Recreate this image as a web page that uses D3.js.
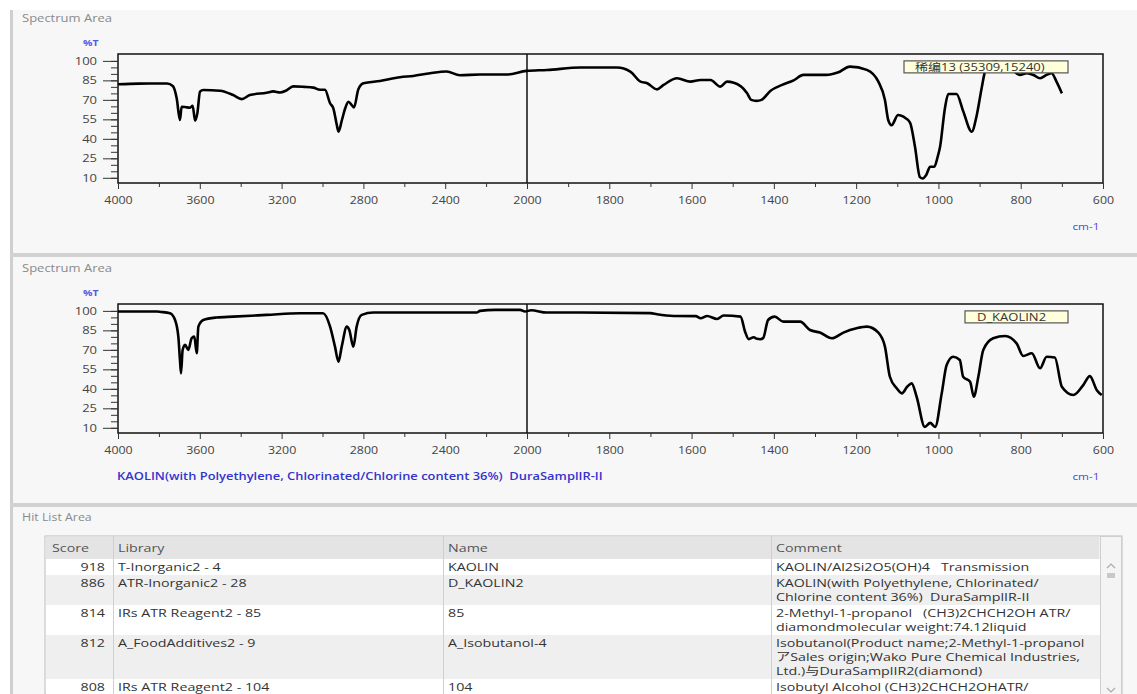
<!DOCTYPE html>
<html>
<head>
<meta charset="utf-8">
<script src="https://cdn.jsdelivr.net/npm/d3@7"></script>
<style>
  body { margin: 0; background: #fff; }
  svg { display: block; }
</style>
</head>
<body>
<svg id="chart" width="1137" height="694"></svg>
<script>
// sample spectrum (top panel) - wavenumber cm-1 / %T
const sampleWn = [4000,3900,3760,3731,3713,3697,3689,3672,3648,3635,3623,3612,3599,3583,3501,3437,3395,3355,3273,3240,3208,3180,3143,3090,3045,3012,2988,2963,2947,2930,2922,2905,2889,2873,2857,2846,2825,2800,2719,2621,2556,2474,2393,2328,2230,2100,2002,1951,1870,1781,1749,1724,1708,1684,1668,1635,1603,1578,1554,1530,1514,1481,1465,1455,1442,1430,1408,1380,1352,1328,1272,1245,1215,1174,1146,1130,1122,1114,1098,1085,1069,1057,1045,1038,1030,1020,1010,1002,996,984,976,956,940,919,907,895,887,879,860,840,820,802,785,769,753,737,725,713,700];
const sampleT  = [82.0,82.5,82.6,80.5,71.2,54.5,64.7,64.5,63.9,65.5,54.0,59.6,76.3,77.6,77.0,73.7,70.6,73.7,75.5,76.5,75.7,77.0,80.4,80.0,79.4,77.8,77.8,67.4,63.5,50.6,45.5,54.5,63.5,68.6,66.0,64.1,78.0,82.7,84.5,87.4,88.4,90.5,91.8,89.0,89.5,89.5,92.3,93.0,94.9,94.9,91.8,84.0,82.8,78.1,81.5,86.6,84.0,85.3,85.3,80.2,84.0,80.6,75.0,70.0,69.2,70.0,77.0,81.5,85.0,89.2,89.2,91.0,95.6,93.1,84.0,69.9,54.5,50.5,58.3,57.0,52.5,33.9,10.5,9.5,12.0,18.5,18.5,26.0,33.9,64.0,74.5,74.5,61.5,45.5,58.0,79.0,91.7,98.0,99.5,97.0,93.0,89.2,90.5,89.2,86.6,89.2,90.5,84.0,75.0];

// library spectrum (bottom panel) - D_KAOLIN2
const refWn = [4000,3811,3790,3746,3721,3705,3697,3692,3684,3672,3656,3640,3627,3615,3607,3583,3518,3437,3274,3110,2997,2963,2939,2922,2906,2881,2869,2849,2833,2808,2751,2621,2246,2230,2157,2034,2010,1990,1952,1870,1700,1684,1644,1590,1578,1562,1538,1522,1481,1470,1461,1449,1441,1433,1426,1414,1398,1377,1336,1312,1288,1259,1231,1199,1174,1146,1130,1118,1101,1089,1075,1065,1053,1033,1020,1008,992,980,964,948,940,923,914,903,891,867,838,810,794,773,753,737,717,700,672,648,632,615,603];
const refT  = [99.5,99.5,99.2,98.2,93.0,80.2,62.2,51.9,69.9,73.8,69.9,78.9,80.2,67.4,87.9,93.0,94.9,95.6,96.9,98.2,98.2,87.9,72.5,60.9,72.5,87.9,85.3,72.5,87.9,96.9,98.7,98.7,98.7,100.0,100.8,100.8,99.5,100.5,98.7,98.7,98.3,97.4,96.1,96.0,94.3,96.1,93.8,96.4,95.6,84.0,78.2,79.7,78.5,78.2,79.0,93.0,95.6,91.7,91.7,85.3,83.3,78.9,83.3,86.6,87.9,83.3,72.5,49.3,40.3,36.5,42.0,44.2,33.9,10.7,13.8,10.7,36.5,58.3,64.7,62.2,49.3,45.5,33.9,49.3,69.9,78.9,80.7,75.0,65.3,67.4,55.8,64.7,64.1,41.6,35.2,42.9,49.8,39.0,35.2];

const xTickValues = [4000,3600,3200,2800,2400,2000,1800,1600,1400,1200,1000,800,600];
const xMinorValues = [3800,3400,3000,2600,2200,1900,1700,1500,1300,1100,900,700];
const yTickValues = [10,25,40,55,70,85,100];
const cursorWn = 2000;

const hitScores = [918, 886, 814, 812, 808];
const hitLibraries = ["T-Inorganic2 - 4", "ATR-Inorganic2 - 28", "IRs ATR Reagent2 - 85", "A_FoodAdditives2 - 9", "IRs ATR Reagent2 - 104"];
const hitNames = ["KAOLIN", "D_KAOLIN2", "85", "A_Isobutanol-4", "104"];
const hitComments = [
  "KAOLIN/Al2Si2O5(OH)4   Transmission",
  "KAOLIN(with Polyethylene, Chlorinated/\nChlorine content 36%)  DuraSamplIR-II",
  "2-Methyl-1-propanol   (CH3)2CHCH2OH ATR/\ndiamondmolecular weight:74.12liquid",
  "Isobutanol(Product name;2-Methyl-1-propanol\nアSales origin;Wako Pure Chemical Industries,\nLtd.)与DuraSamplIR2(diamond)",
  "Isobutyl Alcohol (CH3)2CHCH2OHATR/"
];

const W = 1137, H = 694;
const S = 1.24; // screenshot is stretched horizontally, text too
const svg = d3.select('#chart');
const bg = '#f7f7f7';
const uiFont = '"Open Sans", "Noto Sans", "Noto Sans CJK SC", sans-serif';

// window background
svg.append('rect').attr('width', W).attr('height', H).attr('fill', '#fff');
svg.append('rect').attr('x', 13).attr('y', 10).attr('width', W - 13).attr('height', H - 10).attr('fill', bg);
svg.append('rect').attr('x', 10).attr('y', 10).attr('width', 3).attr('height', H - 10).attr('fill', '#cfcfcf');
// panel separators
[253, 503].forEach(function(yy) {
  svg.append('rect').attr('x', 10).attr('y', yy).attr('width', W - 10).attr('height', 4).attr('fill', '#d2d2d2');
});

function drawSpectrum(top, wn, t, legendText, legendX, legendW, caption) {
  const plotTop = top + 44, plotBottom = top + 173;
  const x = d3.scaleLinear().domain([4000, 2000, 600]).range([118, 527, 1103]);
  const y = d3.scaleLinear().domain([6, 105.3]).range([plotBottom, plotTop]);

  svg.append('text').attr('x', 22).attr('y', top + 12)
    .attr('font-family', uiFont).attr('font-size', 10.5).attr('fill', '#8a8a8a')
    .text('Spectrum Area');

  svg.append('text').attr('x', 83).attr('y', top + 36)
    .attr('font-family', uiFont).attr('font-size', 8.5).attr('font-weight', 'bold')
    .attr('fill', '#5a5ae0').text('%T');

  const g = svg.append('g');

  // frame
  g.append('rect')
    .attr('x', x(4000)).attr('y', y(105.3))
    .attr('width', x(600) - x(4000)).attr('height', y(6) - y(105.3))
    .attr('fill', bg).attr('stroke', '#111').attr('stroke-width', 1.5);

  // y minor ticks
  g.append('g').attr('transform', 'translate(' + x(4000) + ',0)')
    .call(d3.axisLeft(y).tickValues(d3.range(10, 101, 5)).tickSize(7).tickFormat(''))
    .call(s => s.select('.domain').remove())
    .call(s => s.selectAll('line').attr('stroke', '#333'));
  // y major ticks
  g.append('g').attr('transform', 'translate(' + x(4000) + ',0)')
    .call(d3.axisLeft(y).tickValues(yTickValues).tickSize(15).tickPadding(6))
    .call(s => s.select('.domain').remove())
    .call(s => s.selectAll('line').attr('stroke', '#333'))
    .call(s => s.selectAll('text').attr('font-family', uiFont).attr('font-size', 10.5).attr('fill', '#444'));

  // x ticks
  g.append('g').attr('transform', 'translate(0,' + plotBottom + ')')
    .call(d3.axisBottom(x).tickValues(xMinorValues).tickSize(4).tickFormat(''))
    .call(s => s.select('.domain').remove())
    .call(s => s.selectAll('line').attr('stroke', '#333'));
  g.append('g').attr('transform', 'translate(0,' + plotBottom + ')')
    .call(d3.axisBottom(x).tickValues(xTickValues).tickSize(6).tickPadding(8).tickFormat(d3.format('d')))
    .call(s => s.select('.domain').remove())
    .call(s => s.selectAll('line').attr('stroke', '#333'))
    .call(s => s.selectAll('text').attr('font-family', uiFont).attr('font-size', 10).attr('fill', '#444'));

  // cursor line
  g.append('line')
    .attr('x1', x(cursorWn)).attr('x2', x(cursorWn))
    .attr('y1', y(105.3)).attr('y2', y(6))
    .attr('stroke', '#111').attr('stroke-width', 1.5);

  // spectrum
  const pts = wn.map((w, i) => ({ wn: w, t: t[i] }));
  const line = d3.line().x(d => x(d.wn)).y(d => y(d.t)).curve(d3.curveMonotoneX);
  g.append('path').datum(pts)
    .attr('fill', 'none').attr('stroke', '#000').attr('stroke-width', 2.6)
    .attr('stroke-linejoin', 'round').attr('d', line);

  // legend label
  const lg = g.append('g').attr('transform', 'translate(' + legendX + ',' + (y(100)) + ')');
  lg.append('rect').attr('width', legendW).attr('height', 12)
    .attr('fill', '#ffffdc').attr('stroke', '#555').attr('stroke-width', 1.2);
  lg.append('text').attr('x', legendW > 140 ? 11 : 12).attr('y', 10)
    .attr('font-family', uiFont).attr('font-size', 10.5).attr('fill', '#333')
    .text(legendText);

  // unit
  svg.append('text').attr('x', 1086).attr('y', top + 220)
    .attr('text-anchor', 'middle')
    .attr('font-family', uiFont).attr('font-size', 9.5).attr('fill', '#4a4ad8').text('cm-1');

  if (caption) {
    svg.append('text').attr('x', 117).attr('y', top + 220)
      .attr('font-family', uiFont).attr('font-size', 10.4).attr('font-weight', 600).attr('fill', '#3434cc')
      .attr('xml:space', 'preserve').text(caption);
  }
}

drawSpectrum(10, sampleWn, sampleT, '稀编13 (35309,15240)', 904, 164, null);
drawSpectrum(260, refWn, refT, 'D_KAOLIN2', 965, 103,
  'KAOLIN(with Polyethylene, Chlorinated/Chlorine content 36%)  DuraSamplIR-II');

// ---- hit list ----
svg.append('text').attr('x', 22).attr('y', 521)
  .attr('font-family', uiFont).attr('font-size', 10).attr('fill', '#8a8a8a')
  .text('Hit List Area');

const tblLeft = 45, tblRight = 1122, headTop = 536, headBottom = 559;
const colX = [tblLeft, 113, 443, 771, 1100];
const lineH = 14;
const rows = hitScores.map((s, i) => ({
  score: s, lib: hitLibraries[i], name: hitNames[i],
  lines: hitComments[i].split('\n')
}));
let yCursor = headBottom;
rows.forEach(r => { r.y0 = yCursor; r.h = r.lines.length * lineH + 2; yCursor += r.h; });

const tbl = svg.append('g');
tbl.append('rect').attr('x', tblLeft).attr('y', headTop).attr('width', tblRight - tblLeft).attr('height', H - headTop)
  .attr('fill', '#fff').attr('stroke', '#bcbcbc');
tbl.append('rect').attr('x', tblLeft + 0.5).attr('y', headTop + 0.5).attr('width', colX[4] - tblLeft - 1).attr('height', headBottom - headTop)
  .attr('fill', '#e4e4e4');

tbl.selectAll('rect.row').data(rows).join('rect').attr('class', 'row')
  .attr('x', tblLeft + 1).attr('y', d => d.y0).attr('width', colX[4] - tblLeft - 1).attr('height', d => d.h)
  .attr('fill', (d, i) => i % 2 ? '#efefef' : '#fff');

tbl.selectAll('line.col').data(colX.slice(1)).join('line').attr('class', 'col')
  .attr('x1', d => d + 0.5).attr('x2', d => d + 0.5).attr('y1', headTop).attr('y2', H)
  .attr('stroke', '#cfcfcf');

const headers = ['Score', 'Library', 'Name', 'Comment'];
tbl.selectAll('text.head').data(headers).join('text').attr('class', 'head')
  .attr('x', (d, i) => colX[i] + (i === 0 ? 7 : 5)).attr('y', headTop + 16)
  .attr('font-family', uiFont).attr('font-size', 11.5).attr('fill', '#555')
  .text(d => d);

const cellText = sel => sel.attr('font-family', uiFont).attr('font-size', 11.5).attr('fill', '#333');
rows.forEach(r => {
  const by = r.y0 + 12.5;
  tbl.append('text').attr('x', colX[1] - 8).attr('y', by).attr('text-anchor', 'end').call(cellText).text(r.score);
  tbl.append('text').attr('x', colX[1] + 5).attr('y', by).call(cellText).text(r.lib);
  tbl.append('text').attr('x', colX[2] + 5).attr('y', by).call(cellText).text(r.name);
  r.lines.forEach((ln, j) => {
    tbl.append('text').attr('x', colX[3] + 5).attr('y', by + j * lineH)
      .attr('xml:space', 'preserve').call(cellText).text(ln);
  });
});

// scrollbar
tbl.append('rect').attr('x', 1100.5).attr('y', headTop + 0.5).attr('width', 21).attr('height', H - headTop)
  .attr('fill', '#f4f4f4').attr('stroke', '#cfcfcf');
tbl.append('path').attr('d', 'M1107,568 L1111,564 L1115,568').attr('fill', 'none').attr('stroke', '#aaa').attr('stroke-width', 1.2);
tbl.append('rect').attr('x', 1107).attr('y', 573).attr('width', 8).attr('height', 5).attr('fill', '#c8c8c8');
tbl.append('path').attr('d', 'M1107,688 L1111,692 L1115,688').attr('fill', 'none').attr('stroke', '#aaa').attr('stroke-width', 1.2);

// widen every text horizontally like the stretched screenshot
svg.selectAll('text').each(function() {
  const t = d3.select(this);
  const x0 = +t.attr('x') || 0;
  t.attr('x', x0 / S).attr('transform', 'scale(' + S + ',1)');
});
</script>
</body>
</html>
